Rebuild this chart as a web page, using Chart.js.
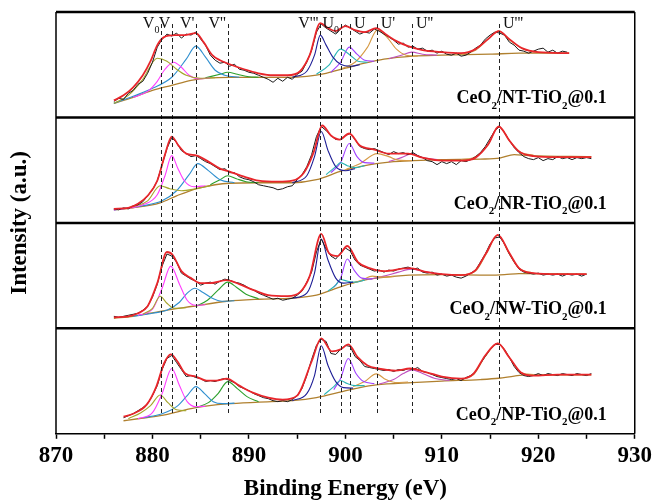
<!DOCTYPE html>
<html>
<head>
<meta charset="utf-8">
<script src="https://cdn.jsdelivr.net/npm/chart.js"></script>
<style>
html, body { margin: 0; padding: 0; background: #fff; }
</style>
</head>
<body>
<canvas id="myChart" width="655" height="503"></canvas>
<script>
// binding energy grid of the measured spectra (eV)
var energy = [
  876,876.5,877,877.5,878,878.5,879,879.5,880,880.5,
  881,881.5,882,882.5,883,883.5,884,884.5,885,885.5,
  886,886.5,887,887.5,888,888.5,889,889.5,890,890.5,
  891,891.5,892,892.5,893,893.5,894,894.5,895,895.5,
  896,896.5,897,897.5,898,898.5,899,899.5,900,900.5,
  901,901.5,902,902.5,903,903.5,904,904.5,905,905.5,
  906,906.5,907,907.5,908,908.5,909,909.5,910,910.5,
  911,911.5,912,912.5,913,913.5,914,914.5,915,915.5,
  916,916.5,917,917.5,918,918.5,919,919.5,920,920.5,
  921,921.5,922,922.5,923,923.5,924,924.5,925,925.5
];

// measured intensity, each panel in its own units (0-105)
var nt_raw = [
  16,19,18,24,27,33,36,44,55,70,
  78,83,81,84,79,83,82,85,78,72,
  62,57,54,55,51,53,48,47,45,44,
  42,40,38,35,39,36,40,38,43,46,
  55,67,85,93,89,86,83,88,92,89,
  86,83,85,84,88,86,83,80,77,73,
  74,70,71,68,69,66,67,64,66,63,
  62,64,61,62,65,69,72,78,82,85,
  84,82,75,72,67,66,64,66,68,69,
  65,67,64,66,65,null,null,null,null,null
];
var nr_raw = [
  14,13,15,14,17,18,21,27,33,42,
  58,74,85,80,72,69,66,67,64,61,
  59,56,53,54,50,50,46,44,43,41,
  38,37,36,35,33,34,36,37,43,48,
  56,68,86,96,92,87,83,83,87,89,
  83,76,74,73,74,72,70,68,71,69,
  70,68,70,67,65,62,61,58,61,59,
  61,58,62,61,63,66,70,76,84,92,
  96,90,82,75,70,66,64,63,65,62,
  64,63,66,64,65,63,65,64,65,64
];
var nw_raw = [
  12,11,12,13,14,15,18,22,31,44,
  62,74,72,66,55,52,49,47,43,45,
  46,44,47,49,48,46,45,43,40,38,
  35,33,31,29,30,28,29,30,33,37,
  46,56,76,89,79,72,69,75,80,77,
  68,63,61,59,57,58,56,58,57,59,
  60,61,59,60,56,55,56,53,54,52,
  53,51,50,52,55,58,66,74,84,90,
  91,84,74,66,59,56,55,54,55,53,
  54,53,54,52,54,53,54,52,54,null
];
var np_raw = [
  null,null,16,18,20,23,26,30,38,48,
  64,75,78,71,64,57,58,56,55,52,
  53,52,54,55,53,51,47,45,43,40,
  38,36,35,33,32,33,32,34,38,45,
  58,74,88,94,92,80,79,84,88,87,
  77,73,67,66,65,64,63,64,62,64,
  63,65,64,66,62,61,59,57,56,55,
  54,55,53,56,58,62,70,77,84,89,
  89,84,76,67,61,58,57,58,60,58,
  60,59,58,60,59,58,60,59,58,60
];

// fitted envelopes [eV, intensity]
var nt_fit = [[876,17],[877,22],[878,30],[879,42],[879.8,56],[880.5,72],[881.2,80],[882.3,82],[883.3,82],[884.5,84],[885.3,75],[886.2,62],[887,57],[888,53],[889.5,48],[891,44],[892.5,42],[894,42],[895.3,46],[896.3,62],[897.4,94],[898.2,89],[899,86],[900,91],[901,87],[902,85],[903.2,89],[904.3,82],[905.3,76],[906.5,71],[908,67],[910,65],[912,64],[913.5,68],[914.8,78],[915.9,86],[917,78],[918.3,69],[920,65],[923.2,64]];
var nr_fit = [[876,14],[877.5,15],[878.5,19],[879.5,27],[880.5,42],[881.3,68],[882,86],[882.7,77],[883.5,69],[884.6,67],[885.8,61],[887,54],[888,51],[889.5,46],[891,42],[893,41],[894.5,42],[895.7,50],[896.7,70],[897.6,97],[898.5,87],[899.4,83],[900.4,89],[901.5,77],[903,73],[904.5,69],[906.5,69],[908,65],[910,62],[912,62],[913.5,65],[914.8,78],[915.9,96],[917,82],[918,71],[919.5,66.5],[922,65.5],[925.5,65.5]];
var nw_fit = [[876,11],[877.5,12],[878.5,15],[879.5,22],[880.5,45],[881.5,76],[882.1,73],[883,57],[884,50],[885,45],[886,45],[887.7,48],[889,44],[890.5,38],[892,33],[894,32],[895.3,36],[896.3,52],[897.5,94],[898.3,75],[899.2,72],[900.2,82],[901.3,66],[902.5,60],[904,57],[906.6,60],[908.5,56],[910,54],[912,53],[913.5,58],[914.6,75],[915.8,93],[917,75],[918,60],[919.5,55],[922,54],[925,54]];
var np_fit = [[877,17],[878,20],[879.4,29],[880.4,47],[881.2,70],[881.9,79],[882.6,72],[883.4,60],[884.5,57],[885.6,53],[886.6,53],[887.7,55],[889,48],[890.4,41],[892,36],[893.5,34],[895,38],[896.5,72],[897.5,95],[898.6,82],[899.5,84],[900.3,89],[901.3,76],[902.3,68],[903.5,65],[905.2,63],[906.7,65],[908.5,61],[910,57],[912,55],[913.3,60],[914.5,78],[915.8,90],[917,76],[918.2,61],[919.5,58],[922,59],[925.5,59]];

// Shirley backgrounds
var nt_bg = [[876,14],[878,20],[880,27],[882,32],[884,37],[886,39.5],[888,40],[891,40],[894,40],[896,41],[898,44],[900,49],[902,54],[904,58],[907,61],[910,62],[915,63],[918,64],[923.2,64]];
var nr_bg = [[876,13],[878,15],[880.8,20],[882.5,27],[884.5,34],[886.5,38],[888,39.5],[891,40],[894.5,40],[897,43],[899.7,52],[901.5,56],[903.2,59],[905,61],[907,62],[910,63],[914,63.5],[916,64.5],[917.5,68],[919,67],[925.5,66]];
var nw_bg = [[876,10],[878,12],[880.8,17],[884.2,22],[887.7,27],[891,29],[894.5,30],[897,33],[899.7,42],[901.5,47],[903.2,50],[906.6,53],[910,53.5],[915,53],[916.5,53.5],[918,54.5],[925,54]];
var np_bg = [[877,13],[878.5,15],[880.8,18],[884.5,26],[887.7,29.7],[891,31.5],[894.5,33],[897,36],[899.7,42],[901.5,46],[903.2,48.7],[906.9,51],[910,52.5],[914,54],[915.9,55.3],[917.5,57.5],[918.7,58.7],[925.5,58.7]];

// fitted components, order: v0, v, v', v'', v''', u0, u, u', u'', u'''
var nt_v0 = [[876,14],[877.5,22],[879,38],[880.5,59],[881.5,56],[882.5,48],[883.5,42],[885,39],[886.5,39.5]];
var nt_v  = [[878,20],[879.5,26],[880.5,36],[881.3,48],[882.2,55],[883,50],[883.8,42],[884.8,38.5],[886,39.5]];
var nt_v1 = [[876,14],[878,21],[880,29],[882,40],[883.5,58],[884.5,71],[885.5,60],[886.5,47],[887.5,42],[889,40]];
var nt_v2 = [[885.5,39.5],[887,43],[887.8,45],[888.8,43],[890,40.5],[891,40]];
var nt_v3 = [[894.5,40],[896,46],[896.8,62],[897.4,82],[898,72],[898.7,60],[899.5,53],[900.5,51],[901.5,52.5]];
var nt_u0 = [[897,43],[898.3,52],[899.5,68],[900.5,62],[901.3,56],[902.3,55]];
var nt_u  = [[898.5,45],[899.5,55],[900.4,70],[901.2,63],[902,57],[903,56]];
var nt_u1 = [[899.5,48],[901,55],[902.3,70],[903.3,87],[904.3,80],[905.3,68],[906.3,62],[907.5,61]];
var nt_u2 = [[904.5,58.5],[905.8,62],[906.9,65],[908,63],[909.5,62]];
var nt_u3 = [[912,62.5],[913.5,67],[915,80],[915.9,86],[917,77],[918.5,68],[920,64.5]];

var nr_v0 = [[878,16],[879.5,22],[880.8,37],[881.8,34],[883,32],[884.5,34],[886,37]];
var nr_v  = [[876,13],[879,18],[880.5,28],[881.3,47],[882,67],[882.6,55],[883.3,42],[884.3,36],[885.5,37]];
var nr_v1 = [[876,13],[879,17],[881,22],[882.5,32],[883.8,48],[884.7,59],[885.8,52],[887,43],[888.5,40]];
var nr_v2 = [[886,38],[887,43],[887.8,47],[888.7,44],[889.7,41],[891,40]];
var nr_v3 = [[894.5,40],[896,47],[896.8,66],[897.5,91],[898.2,72],[899,56],[900,52],[901,54]];
var nr_u0 = [[898,48],[899,56],[899.5,60],[900.2,57],[901,55],[902,57]];
var nr_u  = [[898.5,50],[899.5,60],[900.4,79],[901.2,66],[902,60],[903,59.5]];
var nr_u1 = [[900,53],[901.5,59],[903.3,69],[904.5,66],[905.5,62.5],[907,62]];
var nr_u2 = [[904.5,61],[905.8,65],[906.9,69],[908,65],[909.5,63]];
var nr_u3 = [[912,63],[913.5,66],[914.8,78],[915.9,96],[917,82],[918.2,70],[919.5,67.5]];

var nw_v0 = [[879,14],[880,20],[880.8,32],[881.5,25],[882.3,20],[883.5,20.5]];
var nw_v  = [[878.5,13],[880,19],[881,40],[881.9,62],[882.8,44],[883.6,28],[884.5,23],[885.5,23.5]];
var nw_v1 = [[878,12],[880,15],[881.5,18],[882.8,26],[883.6,35],[884.4,40],[885.2,36],[886.2,30],[887.2,27],[888.5,27.5]];
var nw_v2 = [[884.5,22],[885.7,28],[886.8,38],[887.8,46],[888.7,41],[889.7,34],[891,29.5]];
var nw_v3 = [[894.5,30],[896,35],[896.8,55],[897.5,89],[898.2,68],[899,50],[899.8,45],[900.8,46]];
var nw_u0 = [[898.2,37],[899,43],[899.5,48.7],[900.2,47],[901,46],[902,48]];
var nw_u  = [[898.8,41],[899.5,50],[900.2,69],[900.9,58],[901.7,50],[902.8,49]];
var nw_u1 = [[900.5,44],[901.7,48],[902.8,52],[903.8,51],[905,51.5]];
var nw_u2 = [[902.5,49],[904,52],[905.5,56],[906.8,59],[908.2,56.5],[910,54]];
var nw_u3 = [[912,53],[913.5,57],[914.6,74],[915.8,93],[917,74],[918,60],[919.5,55]];

var np_v0 = [[877.5,15],[878.8,21],[879.8,28],[880.8,38.7],[881.6,31],[882.5,24],[883.5,23]];
var np_v  = [[878.5,15],[880,21],[881,40],[882,65],[882.8,48],[883.6,32],[884.5,27],[885.5,27.5]];
var np_v1 = [[879,16],[881,20],[882.5,27],[883.6,38],[884.5,47],[885.4,40],[886.3,32],[887.3,30],[888.5,30.5]];
var np_v2 = [[884.5,26],[885.8,31],[886.8,40],[887.8,52],[888.8,45],[889.8,37],[891,32]];
var np_v3 = [[894.5,33],[896,40],[896.8,58],[897.5,87.7],[898.2,68],[899,52],[899.8,46],[900.8,45.5]];
var np_u0 = [[897.8,39],[898.8,47],[899.5,53],[900.2,50],[901,48],[902,48]];
var np_u  = [[898.8,44],[899.5,55],[900.3,75],[901.1,60],[901.9,52],[903,50]];
var np_u1 = [[900.8,47],[902,52],[903.2,59.7],[904.2,54],[905.2,51],[906.5,51.5]];
var np_u2 = [[903.5,49.5],[905,54],[906,60],[906.9,63.7],[908,60],[909.3,55],[910.8,53]];
var np_u3 = [[912,54],[913.3,59],[914.5,77],[915.8,90],[917,76],[918.2,61],[919.5,59]];

// peak assignments (dashed lines)
var peakNames = ['V_0', 'V', "V'", "V''", "V'''", 'U_0', 'U', "U'", "U''", "U'''"];
var peakEnergies = [880.93, 882.07, 884.55, 887.82, 897.41, 899.55, 900.49, 903.24, 906.90, 915.93];
var labelLeft = [true, true, true, true, true, true, false, false, false, false];

var sampleNames = ['CeO_2/NT-TiO_2@0.1', 'CeO_2/NR-TiO_2@0.1', 'CeO_2/NW-TiO_2@0.1', 'CeO_2/NP-TiO_2@0.1'];
var tickLabels = [870, 880, 890, 900, 910, 920, 930];

var panels = [
  { raw: nt_raw, fit: nt_fit, bg: nt_bg, comps: [nt_v0, nt_v, nt_v1, nt_v2, nt_v3, nt_u0, nt_u, nt_u1, nt_u2, nt_u3] },
  { raw: nr_raw, fit: nr_fit, bg: nr_bg, comps: [nr_v0, nr_v, nr_v1, nr_v2, nr_v3, nr_u0, nr_u, nr_u1, nr_u2, nr_u3] },
  { raw: nw_raw, fit: nw_fit, bg: nw_bg, comps: [nw_v0, nw_v, nw_v1, nw_v2, nw_v3, nw_u0, nw_u, nw_u1, nw_u2, nw_u3] },
  { raw: np_raw, fit: np_fit, bg: np_bg, comps: [np_v0, np_v, np_v1, np_v2, np_v3, np_u0, np_u, np_u1, np_u2, np_u3] }
];
var panelHeight = 105;
var compColors = ['#a5a52c', '#ff3dff', '#2f8fcf', '#2ca02c', '#1e1e96', '#2ab5b5', '#a040ff', '#d69a45', '#c050c0', '#c8a050'];
var serif = '"Liberation Serif", "Times New Roman", serif';

var datasets = [];
panels.forEach(function (p, k) {
  var off = (panels.length - 1 - k) * panelHeight;
  var pts = function (arr) { return arr.map(function (q) { return { x: q[0], y: q[1] + off }; }); };
  datasets.push({ data: pts(p.fit), borderColor: '#e8262b', borderWidth: 1.8, cubicInterpolationMode: 'monotone', order: 0 });
  datasets.push({
    data: energy.map(function (e, i) { return { x: e, y: p.raw[i] == null ? null : p.raw[i] + off }; }),
    borderColor: '#1a1a1a', borderWidth: 1, tension: 0, spanGaps: false, order: 1
  });
  p.comps.forEach(function (c, j) {
    datasets.push({ data: pts(c), borderColor: compColors[j], borderWidth: 1.1, cubicInterpolationMode: 'monotone', order: 2 });
  });
  datasets.push({ data: pts(p.bg), borderColor: '#b0802f', borderWidth: 1.3, cubicInterpolationMode: 'monotone', order: 3 });
});

function drawRich(c, text, x, y, size, bold, align) {
  var segs = [];
  text.split(/(_\d)/).forEach(function (s) {
    if (!s) return;
    if (s[0] === '_') segs.push({ t: s.slice(1), sub: true });
    else segs.push({ t: s, sub: false });
  });
  var w = 0;
  segs.forEach(function (s) {
    c.font = (bold ? 'bold ' : '') + (s.sub ? Math.round(size * 0.62) : size) + 'px ' + serif;
    s.w = c.measureText(s.t).width;
    w += s.w;
  });
  var cx = align === 'right' ? x - w : x;
  c.textAlign = 'left';
  c.textBaseline = 'alphabetic';
  segs.forEach(function (s) {
    c.font = (bold ? 'bold ' : '') + (s.sub ? Math.round(size * 0.62) : size) + 'px ' + serif;
    c.fillText(s.t, cx, s.sub ? y + size * 0.3 : y);
    cx += s.w;
  });
}

var decor = {
  id: 'decor',
  afterDatasetsDraw: function (chart) {
    var c = chart.ctx, sx = chart.scales.x, sy = chart.scales.y, a = chart.chartArea;
    c.save();
    c.fillStyle = '#111';
    c.strokeStyle = '#222';
    // dashed assignment lines and their labels
    c.lineWidth = 1;
    c.setLineDash([4, 3]);
    peakEnergies.forEach(function (e) {
      var px = Math.round(sx.getPixelForValue(e)) + 0.5;
      c.beginPath();
      c.moveTo(px, a.top + 12);
      c.lineTo(px, a.bottom - 18);
      c.stroke();
    });
    c.setLineDash([]);
    peakNames.forEach(function (n, i) {
      var px = sx.getPixelForValue(peakEnergies[i]);
      if (labelLeft[i]) drawRich(c, n, px - 2, a.top + 16, 16, false, 'right');
      else drawRich(c, n, px + 4, a.top + 16, 16, false, 'left');
    });
    // frame and panel separators
    c.strokeStyle = '#000';
    c.lineWidth = 1.5;
    c.beginPath();
    c.moveTo(a.left, a.top); c.lineTo(a.left, a.bottom);
    c.moveTo(a.right, a.top); c.lineTo(a.right, a.bottom);
    c.stroke();
    c.lineWidth = 2.5;
    for (var k = 1; k <= panels.length; k++) {
      var py = sy.getPixelForValue(k * panelHeight);
      c.beginPath();
      c.moveTo(a.left, py); c.lineTo(a.right, py);
      c.stroke();
    }
    // sample names
    c.fillStyle = '#000';
    sampleNames.forEach(function (s, k) {
      var base = sy.getPixelForValue((panels.length - 1 - k) * panelHeight);
      drawRich(c, s, a.right - 28, base - 14, 18, true, 'right');
    });
    // y title
    c.translate(20, (a.top + a.bottom) / 2);
    c.rotate(-Math.PI / 2);
    c.font = 'bold 23px ' + serif;
    c.textAlign = 'center';
    c.textBaseline = 'middle';
    c.fillText('Intensity (a.u.)', 0, 0);
    c.restore();
  }
};

var ctx = document.getElementById('myChart').getContext('2d');
var myChart = new Chart(ctx, {
  type: 'line',
  data: { datasets: datasets },
  plugins: [decor],
  options: {
    responsive: false,
    animation: false,
    devicePixelRatio: 1,
    layout: { padding: { left: 56, right: 19, top: 12, bottom: 0 } },
    plugins: { legend: { display: false }, tooltip: { enabled: false } },
    elements: { point: { radius: 0 } },
    scales: {
      x: {
        type: 'linear', min: 870, max: 930,
        border: { display: true, color: '#000', width: 1.5 },
        grid: { display: true, drawOnChartArea: false, drawTicks: true, tickLength: 5, color: '#000', tickWidth: 1.5 },
        ticks: {
          stepSize: 5, autoSkip: false, maxRotation: 0, padding: 3, color: '#000',
          font: { family: serif, size: 23, weight: 'bold' },
          callback: function (v) { return tickLabels.indexOf(v) >= 0 ? String(v) : ''; }
        },
        title: { display: true, text: 'Binding Energy (eV)', color: '#000', font: { family: serif, size: 23, weight: 'bold' }, padding: { top: 3, bottom: 0 } }
      },
      y: { display: false, min: 0, max: 420 }
    }
  }
});
</script>
</body>
</html>
